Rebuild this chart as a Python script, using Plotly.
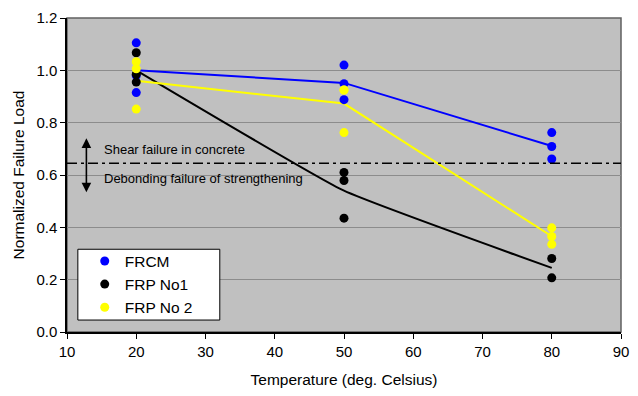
import plotly.graph_objects as go

# ---- data ----
frcm_temp = [20, 20, 20, 50, 50, 50, 80, 80, 80]
frcm_load = [1.105, 0.980, 0.915, 1.020, 0.949, 0.888, 0.762, 0.709, 0.661]

frp1_temp = [20, 20, 20, 50, 50, 50, 80, 80]
frp1_load = [1.067, 0.985, 0.955, 0.610, 0.579, 0.435, 0.281, 0.207]

frp2_temp = [20, 20, 20, 50, 50, 50, 80, 80, 80]
frp2_load = [1.033, 1.006, 0.852, 0.925, 0.925, 0.762, 0.398, 0.365, 0.335]

mean_temp = [20, 50, 80]
frcm_mean = [1.000, 0.952, 0.711]
frp1_mean = [1.000, 0.540, 0.245]
frp2_mean = [0.960, 0.873, 0.366]

threshold = 0.645
arrow_x = 12.8
arrow_top = 0.746
arrow_bottom = 0.534
label_x = 15.1
label_upper_y = 0.699
label_lower_y = 0.585
label_upper = "Shear failure in concrete"
label_lower = "Debonding failure of strengthening"

x_ticks = [10, 20, 30, 40, 50, 60, 70, 80, 90]
y_ticks = [0.0, 0.2, 0.4, 0.6, 0.8, 1.0, 1.2]

FONT = "Liberation Sans, Arial, sans-serif"
BLUE = "#0000FF"
BLACK = "#000000"
YELLOW = "#FFFF00"

fig = go.Figure()

# mean lines (not in legend)
fig.add_trace(go.Scatter(x=mean_temp, y=frcm_mean, mode="lines",
                         line=dict(color=BLUE, width=2), showlegend=False, hoverinfo="skip"))
fig.add_trace(go.Scatter(x=mean_temp, y=frp1_mean, mode="lines",
                         line=dict(color=BLACK, width=2, shape="spline", smoothing=0.35),
                         showlegend=False, hoverinfo="skip"))
fig.add_trace(go.Scatter(x=mean_temp, y=frp2_mean, mode="lines",
                         line=dict(color=YELLOW, width=2), showlegend=False, hoverinfo="skip"))

# points
fig.add_trace(go.Scatter(x=frcm_temp, y=frcm_load, mode="markers", name="FRCM",
                         marker=dict(color=BLUE, size=9)))
fig.add_trace(go.Scatter(x=frp1_temp, y=frp1_load, mode="markers", name="FRP No1",
                         marker=dict(color=BLACK, size=9)))
fig.add_trace(go.Scatter(x=frp2_temp, y=frp2_load, mode="markers", name="FRP No 2",
                         marker=dict(color=YELLOW, size=9)))

# plot-area frame (grey), legend box, threshold line
fig.add_shape(type="rect", xref="paper", yref="paper", x0=0, x1=1, y0=0, y1=1,
              line=dict(color="#606060", width=1.5), layer="below")
fig.add_shape(type="line", xref="paper", yref="y", x0=0, x1=1, y0=threshold, y1=threshold,
              line=dict(color=BLACK, width=1.5, dash="10px,4px,3px,4px"))
fig.add_shape(type="rect", xref="paper", yref="paper", x0=0.0196, x1=0.2758, y0=0.0381, y1=0.2635,
              line=dict(color=BLACK, width=1), fillcolor="white", layer="above")

# double arrow
fig.add_annotation(x=arrow_x, y=arrow_bottom, ax=arrow_x, ay=arrow_top, xref="x", yref="y",
                   axref="x", ayref="y", text="", showarrow=True, arrowhead=2,
                   startarrowhead=2, arrowside="end+start", arrowsize=1.2,
                   startarrowsize=1.2, arrowwidth=1.6, arrowcolor=BLACK)
fig.add_annotation(x=label_x, y=label_upper_y, xref="x", yref="y", text=label_upper,
                   showarrow=False, xanchor="left", yanchor="middle",
                   font=dict(family=FONT, size=13, color="#000"))
fig.add_annotation(x=label_x, y=label_lower_y, xref="x", yref="y", text=label_lower,
                   showarrow=False, xanchor="left", yanchor="middle",
                   font=dict(family=FONT, size=13, color="#000"))

fig.update_layout(
    width=638, height=396,
    margin=dict(l=67, r=9, t=17, b=64),
    paper_bgcolor="white", plot_bgcolor="#C0C0C0",
    font=dict(family=FONT, size=15, color="#000"),
    showlegend=True,
    legend=dict(x=0.032, y=0.279, xanchor="left", yanchor="top",
                bgcolor="rgba(0,0,0,0)", borderwidth=0,
                font=dict(family=FONT, size=15.5, color="#000"),
                tracegroupgap=0, itemwidth=30),
)
fig.update_xaxes(range=[10, 90], tickvals=x_ticks, ticktext=[str(v) for v in x_ticks],
                 showgrid=False, zeroline=False, showline=True, linecolor="#000",
                 linewidth=1.5, ticks="outside", ticklen=5, tickcolor="#000",
                 title=dict(text="Temperature (deg. Celsius)", standoff=15,
                            font=dict(family=FONT, size=15.5)))
fig.update_yaxes(range=[0, 1.2], tickvals=y_ticks, ticktext=[f"{v:.1f}" for v in y_ticks],
                 showgrid=True, gridcolor="#8C8C8C", gridwidth=1, zeroline=False,
                 showline=True, linecolor="#000", linewidth=1.5, ticks="outside",
                 ticklen=5, tickcolor="#000",
                 title=dict(text="Normalized Failure Load", standoff=8,
                            font=dict(family=FONT, size=15.5)))

fig.write_html("out.html")
